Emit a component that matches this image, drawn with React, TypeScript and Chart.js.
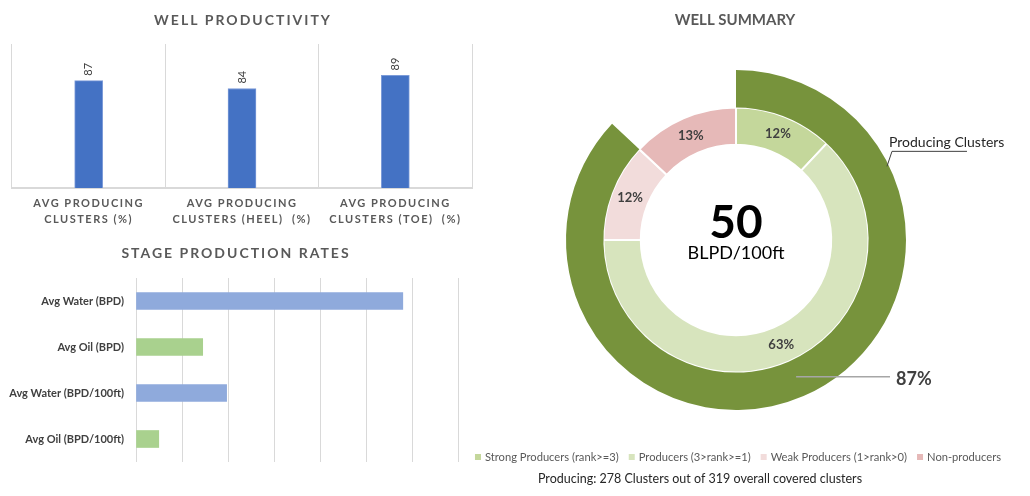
import React, { useEffect, useRef } from "react";
import { Chart, registerables } from "chart.js";

Chart.register(...registerables);

// ---------- DATA ----------
const prodTitle = "WELL PRODUCTIVITY";
const prodCategories = [
  ["AVG PRODUCING", "CLUSTERS (%)"],
  ["AVG PRODUCING", "CLUSTERS (HEEL)  (%)"],
  ["AVG PRODUCING", "CLUSTERS (TOE)  (%)"],
];
const prodValues = [87, 84, 89];
const prodAxisMin = 46;
const prodAxisMax = 101;

const stageTitle = "STAGE PRODUCTION RATES";
const stageCategories = [
  "Avg Water (BPD)",
  "Avg Oil (BPD)",
  "Avg Water (BPD/100ft)",
  "Avg Oil (BPD/100ft)",
];
const stageValues = [116, 29, 39.4, 9.9];
const stageAxisMax = 140;
const stageAxisStep = 20;

const summaryTitle = "WELL SUMMARY";
const ringSeriesName = "Producing Clusters";
const ringValues = [87, 13];
const summaryLabels = [
  "Strong Producers (rank>=3)",
  "Producers (3>rank>=1)",
  "Weak Producers (1>rank>0)",
  "Non-producers",
];
const summaryValues = [12, 63, 12, 13];
const centerValue = "50";
const centerUnit = "BLPD/100ft";
const footerText = "Producing: 278 Clusters out of 319 overall covered clusters";

// ---------- STYLE ----------
const FONT = "Lato, 'DejaVu Sans', sans-serif";
const GRID = "#D9D9D9";
const TITLE_COLOR = "#595959";
const summaryColors = ["#C4D79B", "#D7E4BD", "#F2DCDB", "#E6B9B8"];
const ringColors = ["#77933C", "rgba(0,0,0,0)"];
const SUMMARY_LEFT = 460;

function ProductivityChart() {
  const ref = useRef<HTMLCanvasElement>(null);
  useEffect(() => {
    const setSpacing = (chart: any) => {
      (chart.ctx as any).letterSpacing = "1.5px";
    };
    const plugin = {
      id: "prodDecor",
      beforeLayout: setSpacing,
      beforeDraw: setSpacing,
      afterDatasetsDraw(chart: any) {
        const ctx = chart.ctx;
        const meta = chart.getDatasetMeta(0);
        ctx.save();
        (ctx as any).letterSpacing = "0px";
        ctx.font = `11px ${FONT}`;
        ctx.fillStyle = "#404040";
        ctx.textAlign = "left";
        ctx.textBaseline = "middle";
        meta.data.forEach((bar: any, i: number) => {
          ctx.save();
          ctx.translate(bar.x, bar.y - 5);
          ctx.rotate(-Math.PI / 2);
          ctx.fillText(String(prodValues[i]), 0, 0);
          ctx.restore();
        });
        ctx.restore();
      },
      afterDraw(chart: any) {
        const ctx = chart.ctx;
        const a = chart.chartArea;
        ctx.save();
        (ctx as any).letterSpacing = "2px";
        ctx.font = `bold 14px ${FONT}`;
        ctx.fillStyle = TITLE_COLOR;
        ctx.textAlign = "center";
        ctx.textBaseline = "middle";
        ctx.fillText(prodTitle, (a.left + a.right) / 2 + 1, 20);
        ctx.restore();
      },
    };
    const chart = new Chart(ref.current!, {
      type: "bar",
      data: {
        labels: prodCategories as any,
        datasets: [
          {
            data: prodValues,
            backgroundColor: "#4472C4",
            borderColor: "#7C9BD8",
            borderWidth: 1,
            barThickness: 28,
          },
        ],
      },
      options: {
        animation: false,
        responsive: false,
        maintainAspectRatio: false,
        layout: { padding: { left: 12, right: 8, top: 44, bottom: 0 } },
        plugins: {
          legend: { display: false },
          tooltip: { enabled: false },
          title: { display: false },
        },
        scales: {
          x: {
            grid: { color: GRID, drawTicks: false, offset: true },
            border: { color: GRID, width: 2 },
            ticks: {
              color: TITLE_COLOR,
              font: { family: FONT, size: 11, weight: "bold", lineHeight: "16px" } as any,
              padding: 7,
              maxRotation: 0,
              autoSkip: false,
            },
            afterFit: (s: any) => {
              s.height = 52;
            },
          },
          y: { display: false, min: prodAxisMin, max: prodAxisMax },
        },
      } as any,
      plugins: [plugin],
    });
    return () => chart.destroy();
  }, []);
  return (
    <canvas
      ref={ref}
      width={480}
      height={240}
      style={{ position: "absolute", left: 0, top: 0, width: 480, height: 240 }}
    />
  );
}

function StageChart() {
  const ref = useRef<HTMLCanvasElement>(null);
  useEffect(() => {
    const plugin = {
      id: "stageDecor",
      afterDraw(chart: any) {
        const ctx = chart.ctx;
        ctx.save();
        (ctx as any).letterSpacing = "2px";
        ctx.font = `bold 14px ${FONT}`;
        ctx.fillStyle = TITLE_COLOR;
        ctx.textAlign = "center";
        ctx.textBaseline = "middle";
        ctx.fillText(stageTitle, 236, 18);
        ctx.restore();
      },
    };
    const chart = new Chart(ref.current!, {
      type: "bar",
      data: {
        labels: stageCategories,
        datasets: [
          {
            data: stageValues,
            backgroundColor: ["#8FAADC", "#A9D18E", "#8FAADC", "#A9D18E"],
            barThickness: 17,
          },
        ],
      },
      options: {
        indexAxis: "y",
        animation: false,
        responsive: false,
        maintainAspectRatio: false,
        layout: { padding: { left: 0, right: 22, top: 43, bottom: 34 } },
        plugins: {
          legend: { display: false },
          tooltip: { enabled: false },
          title: { display: false },
        },
        scales: {
          x: {
            min: 0,
            max: stageAxisMax,
            ticks: { stepSize: stageAxisStep, display: false },
            grid: { color: GRID, drawTicks: false },
            border: { display: false },
            afterFit: (s: any) => {
              s.height = 0;
            },
          },
          y: {
            grid: { display: false, drawTicks: false },
            border: { display: false },
            ticks: {
              color: "#404040",
              font: { family: FONT, size: 11, weight: "bold" },
              padding: 12,
            },
            afterFit: (s: any) => {
              s.width = 136;
            },
          },
        },
      } as any,
      plugins: [plugin],
    });
    return () => chart.destroy();
  }, []);
  return (
    <canvas
      ref={ref}
      width={480}
      height={261}
      style={{ position: "absolute", left: 0, top: 235, width: 480, height: 261 }}
    />
  );
}

function SummaryChart() {
  const ref = useRef<HTMLCanvasElement>(null);
  useEffect(() => {
    const plugin = {
      id: "summaryDecor",
      afterDraw(chart: any) {
        const ctx = chart.ctx;
        const outer = chart.getDatasetMeta(0).data;
        const inner = chart.getDatasetMeta(1).data;
        const cx = outer[0].x;
        const cy = outer[0].y;
        ctx.save();
        (ctx as any).letterSpacing = "0px";

        // title
        ctx.font = `bold 15px ${FONT}`;
        ctx.fillStyle = TITLE_COLOR;
        ctx.textAlign = "center";
        ctx.textBaseline = "middle";
        ctx.fillText(summaryTitle, cx - 1, 20);

        // inner ring labels
        ctx.font = `bold 13px ${FONT}`;
        ctx.fillStyle = "#404040";
        inner.forEach((arc: any, i: number) => {
          const p = arc.tooltipPosition();
          ctx.fillText(`${summaryValues[i]}%`, p.x, p.y);
        });

        // center text
        ctx.fillStyle = "#000000";
        ctx.font = `bold 46px ${FONT}`;
        ctx.fillText(centerValue, cx, cy - 17);
        ctx.font = `18px ${FONT}`;
        ctx.fillText(centerUnit, cx, cy + 13);

        // outer ring value label with leader line
        const arc0 = outer[0];
        const p0 = arc0.tooltipPosition();
        const lineEnd = cx + arc0.outerRadius - 16;
        ctx.strokeStyle = "#A6A6A6";
        ctx.lineWidth = 1.5;
        ctx.beginPath();
        ctx.moveTo(p0.x, p0.y - 2);
        ctx.lineTo(lineEnd, p0.y - 2);
        ctx.stroke();
        ctx.font = `bold 18px ${FONT}`;
        ctx.fillStyle = "#404040";
        ctx.textAlign = "left";
        ctx.fillText(`${ringValues[0]}%`, lineEnd + 6, p0.y);

        // series name label with leader line
        const ang = arc0.startAngle + (64 * Math.PI) / 180;
        const ax = cx + Math.cos(ang) * (arc0.outerRadius - 2);
        const ay = cy + Math.sin(ang) * (arc0.outerRadius - 2);
        ctx.strokeStyle = "#404040";
        ctx.lineWidth = 1;
        ctx.beginPath();
        ctx.moveTo(ax, ay);
        ctx.lineTo(ax + 5, ay - 15);
        ctx.lineTo(ax + 80, ay - 15);
        ctx.stroke();
        ctx.font = `14px ${FONT}`;
        ctx.fillStyle = "#262626";
        ctx.textAlign = "left";
        ctx.fillText(ringSeriesName, ax + 2, ay - 24);

        // legend
        const sq = 6;
        const gapIn = 4;
        const gapItem = 10;
        const targetW = 522;
        let fs = 12;
        ctx.font = `${fs}px ${FONT}`;
        const measure = () =>
          summaryLabels.reduce((s, l) => s + ctx.measureText(l).width, 0) +
          summaryLabels.length * (sq + gapIn) +
          (summaryLabels.length - 1) * gapItem;
        let total = measure();
        if (total > targetW) {
          fs = (fs * targetW) / total;
          ctx.font = `${fs}px ${FONT}`;
          total = measure();
        }
        let x = 738 - SUMMARY_LEFT - total / 2;
        const ly = 457;
        ctx.textBaseline = "middle";
        summaryLabels.forEach((l, i) => {
          ctx.fillStyle = summaryColors[i];
          ctx.fillRect(x, ly - sq / 2, sq, sq);
          x += sq + gapIn;
          ctx.fillStyle = TITLE_COLOR;
          ctx.fillText(l, x, ly);
          x += ctx.measureText(l).width + gapItem;
        });

        // footer
        ctx.font = `12.5px ${FONT}`;
        ctx.fillStyle = "#262626";
        ctx.textAlign = "center";
        ctx.fillText(footerText, 700 - SUMMARY_LEFT, 479);
        ctx.restore();
      },
    };
    const chart = new Chart(ref.current!, {
      type: "doughnut",
      data: {
        labels: summaryLabels,
        datasets: [
          {
            label: ringSeriesName,
            data: ringValues,
            backgroundColor: ringColors,
            borderWidth: 0,
          },
          {
            label: "Clusters",
            data: summaryValues,
            backgroundColor: summaryColors,
            borderColor: "#FFFFFF",
            borderWidth: 2,
          },
        ],
      },
      options: {
        animation: false,
        responsive: false,
        maintainAspectRatio: false,
        cutout: "56%",
        layout: { padding: { left: 106, right: 124, top: 70, bottom: 86 } },
        plugins: {
          legend: { display: false },
          tooltip: { enabled: false },
          title: { display: false },
        },
      } as any,
      plugins: [plugin],
    });
    return () => chart.destroy();
  }, []);
  return (
    <canvas
      ref={ref}
      width={1030 - SUMMARY_LEFT}
      height={496}
      style={{
        position: "absolute",
        left: SUMMARY_LEFT,
        top: 0,
        width: 1030 - SUMMARY_LEFT,
        height: 496,
      }}
    />
  );
}

export default function App() {
  return (
    <div
      style={{
        position: "absolute",
        left: 0,
        top: 0,
        width: 1030,
        height: 496,
        background: "#FFFFFF",
        overflow: "hidden",
      }}
    >
      <ProductivityChart />
      <StageChart />
      <SummaryChart />
    </div>
  );
}
